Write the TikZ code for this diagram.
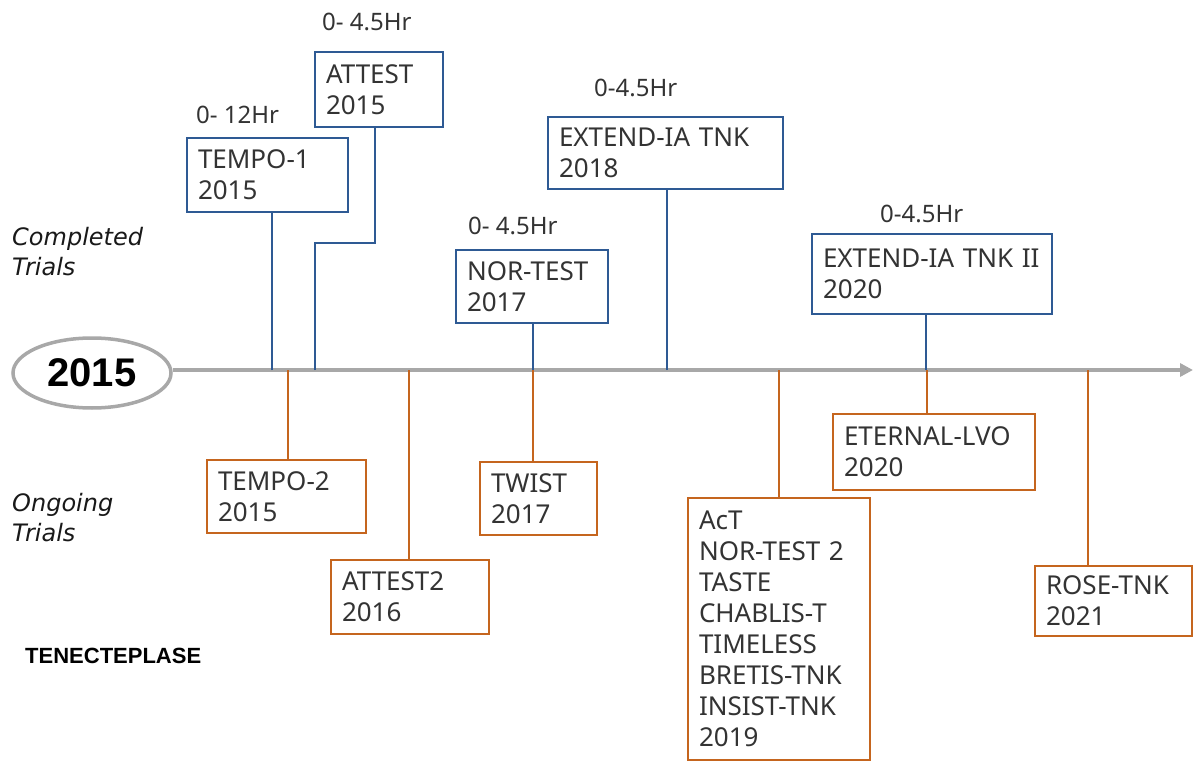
\documentclass[tikz,border=0pt]{standalone}
\usepackage{fontspec}
\setmainfont{Noto Sans}
\newfontfamily\labfont{DejaVu Sans}
\newfontfamily\yrfont{Liberation Sans}
\usetikzlibrary{shapes.geometric,arrows.meta}
\definecolor{cblue}{HTML}{2E5A94}
\definecolor{corange}{HTML}{C5651E}
\definecolor{caxis}{HTML}{A8A8A8}
\definecolor{ctext}{HTML}{333333}
\tikzset{
  trialbox/.style={draw, rectangle, line width=2.8, align=left, inner xsep=11, inner ysep=0,
    text=ctext, font=\fontsize{26}{31}\selectfont},
  bluebox/.style={trialbox, draw=cblue},
  orangebox/.style={trialbox, draw=corange},
  blueline/.style={cblue, line width=2.8},
  orangeline/.style={corange, line width=2.8},
  hrlabel/.style={anchor=west, inner sep=0, text=ctext, font=\fontsize{24}{28}\selectfont},
  sidelabel/.style={anchor=west, align=left, inner sep=0, text=black!90, font=\labfont\itshape\fontsize{24}{30}\selectfont},
}
\begin{document}
\begin{tikzpicture}[x=1pt,y=-1pt]
\useasboundingbox (0,0) rectangle (1194,762);

% year ellipse and axis
\node[ellipse, draw=caxis, line width=3.5, minimum width=158, minimum height=70, inner sep=0,
  font=\yrfont\bfseries\fontsize{40}{40}\selectfont] (year) at (92,373) {2015};
\coordinate (axend) at (1193,370);
\draw[caxis, line width=3.5, -{Triangle[length=13,width=13]}] (year.east |- 0,370) -- (axend);

% axis points
\coordinate (p1) at (272,370);
\coordinate (p2) at (315,370);
\coordinate (p3) at (533,370);
\coordinate (p4) at (667,370);
\coordinate (p5) at (926,370);
\coordinate (q1) at (288,370);
\coordinate (q2) at (409,370);
\coordinate (q3) at (533,370);
\coordinate (q4) at (779,370);
\coordinate (q5) at (927,370);
\coordinate (q6) at (1088,370);

% completed (blue)
\node[bluebox, minimum width=161, minimum height=74, text width=139] (tempo1) at (267.5,175) {TEMPO-1\\2015};
\node[bluebox, minimum width=128, minimum height=75, text width=106] (attest) at (379,89.5) {ATTEST\\2015};
\node[bluebox, minimum width=235, minimum height=72, text width=213] (extend) at (665.5,153) {EXTEND-IA TNK\\2018};
\node[bluebox, minimum width=152, minimum height=73, text width=130] (nortest) at (532,286.5) {NOR-TEST\\2017};
\node[bluebox, minimum width=240, minimum height=80, text width=218] (extend2) at (932,274) {EXTEND-IA TNK II\\2020};

\node[hrlabel] (h1) at (196,115) {0- 12Hr};
\node[hrlabel] (h2) at (322,22) {0- 4.5Hr};
\node[hrlabel] (h3) at (594,88) {0-4.5Hr};
\node[hrlabel] (h4) at (468,226) {0- 4.5Hr};
\node[hrlabel] (h5) at (880,214) {0-4.5Hr};

\draw[blueline] (p1) -- (p1 |- tempo1.south);
\draw[blueline] (p2) -- (315,243) -| (attest.south -| 375,0);
\draw[blueline] (p3) -- (p3 |- nortest.south);
\draw[blueline] (p4) -- (p4 |- extend.south);
\draw[blueline] (p5) -- (p5 |- extend2.south);

% ongoing (orange)
\node[orangebox, minimum width=159, minimum height=73, text width=137] (tempo2) at (286.5,496.5) {TEMPO-2\\2015};
\node[orangebox, minimum width=158, minimum height=74, text width=136] (attest2) at (410,597) {ATTEST2\\2016};
\node[orangebox, minimum width=117, minimum height=73, text width=95] (twist) at (538.5,498.5) {TWIST\\2017};
\node[orangebox, minimum width=182, minimum height=262, text width=160] (many) at (779,629) {AcT\\NOR-TEST 2\\TASTE\\CHABLIS-T\\TIMELESS\\BRETIS-TNK\\INSIST-TNK\\2019};
\node[orangebox, minimum width=202, minimum height=76, text width=180] (eternal) at (934,452) {ETERNAL-LVO\\2020};
\node[orangebox, minimum width=157, minimum height=70, text width=135] (rose) at (1113.5,601) {ROSE-TNK\\2021};

\draw[orangeline] (q1) -- (q1 |- tempo2.north);
\draw[orangeline] (q2) -- (q2 |- attest2.north);
\draw[orangeline] (q3) -- (q3 |- twist.north);
\draw[orangeline] (q4) -- (q4 |- many.north);
\draw[orangeline] (q5) -- (q5 |- eternal.north);
\draw[orangeline] (q6) -- (q6 |- rose.north);

% side labels
\node[sidelabel] (comp) at (12,252) {Completed\\Trials};
\node[sidelabel] (ongo) at (12,518) {Ongoing\\Trials};
\node[anchor=west, inner sep=0, font=\yrfont\bfseries\fontsize{22}{26}\selectfont] (tnk) at (25,656) {TENECTEPLASE};
\end{tikzpicture}
\end{document}
